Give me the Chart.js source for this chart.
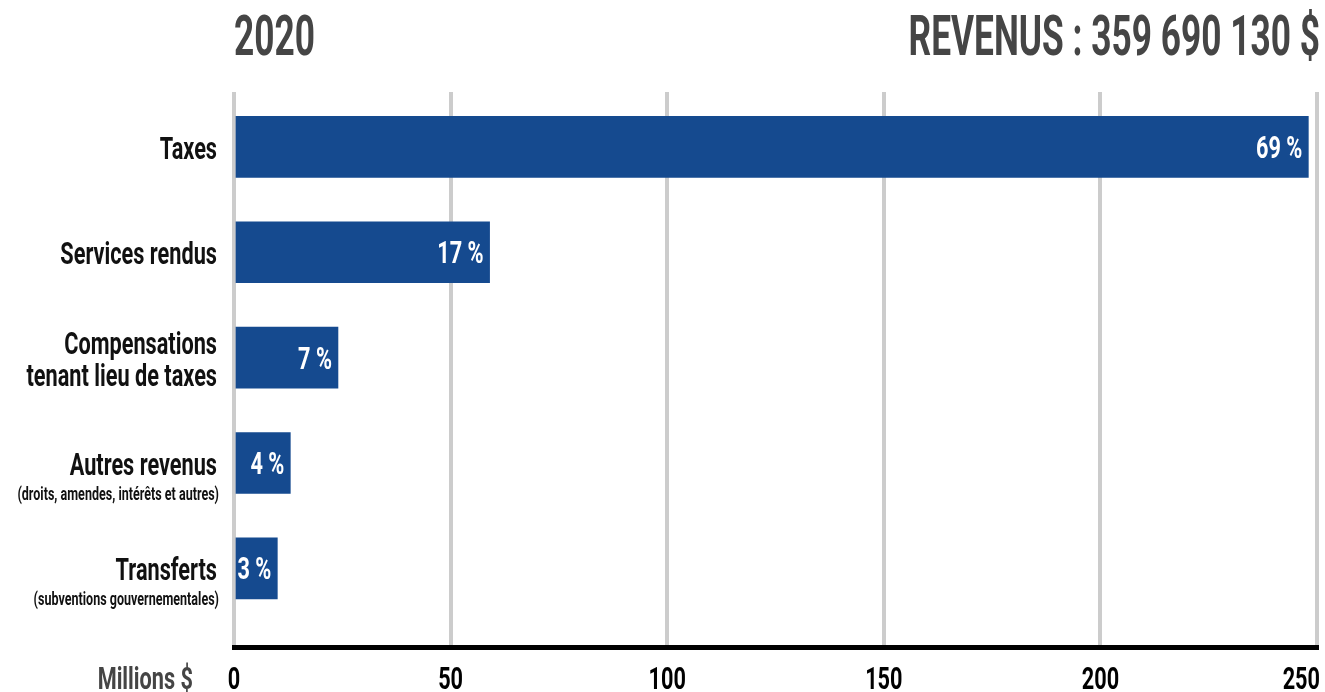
<!DOCTYPE html>
<html lang="fr">
<head>
    <meta charset="UTF-8">
    <title>Revenus 2020</title>
    <script src="https://cdn.jsdelivr.net/npm/chart.js"></script>
    <style>
        body { margin: 0; background: #fff; }
        #wrap { width: 1325px; height: 692px; }
    </style>
</head>
<body>
    <div id="wrap"><canvas id="revChart"></canvas></div>

    <script>
        // data (millions $)
        const categories = [['Taxes'], ['Services rendus'], ['Compensations', 'tenant lieu de taxes'], ['Autres revenus'], ['Transferts']];
        const subtitles = ['', '', '', '(droits, amendes, intérêts et autres)', '(subventions gouvernementales)'];
        const revenues = [248, 59, 24, 13, 10];
        const percentLabels = ['69 %', '17 %', '7 %', '4 %', '3 %'];
        const xTicks = [0, 50, 100, 150, 200, 250];
        const yearLabel = '2020';
        const totalLabel = 'REVENUS : 359 690 130 $';
        const axisTitle = 'Millions $';

        const barColor = '#154a8f';
        const greyText = '#454545';
        const FONT = 'Roboto, "DejaVu Sans", sans-serif';
        const SQUEEZE = 0.7; // condensed look

        function drawText(ctx, text, x, y, size, color, align, sx) {
            ctx.save();
            ctx.font = 'bold ' + size + 'px ' + FONT;
            ctx.fillStyle = color;
            ctx.textAlign = align;
            ctx.textBaseline = 'alphabetic';
            ctx.translate(x, y);
            ctx.scale(sx || SQUEEZE, 1);
            ctx.fillText(text, 0, 0);
            ctx.restore();
        }

        const textPlugin = {
            id: 'texts',
            afterDatasetsDraw(chart) {
                const ctx = chart.ctx;
                const xs = chart.scales.x;
                const ys = chart.scales.y;
                const area = chart.chartArea;

                // header
                drawText(ctx, yearLabel, area.left, 55, 56, greyText, 'left', 0.63);
                drawText(ctx, totalLabel, 1320, 55, 56, greyText, 'right', 0.63);

                // category labels
                categories.forEach((lines, i) => {
                    const cy = ys.getPixelForValue(i);
                    const labelX = area.left - 17;
                    if (lines.length === 2) {
                        drawText(ctx, lines[0], labelX, cy - 4, 31, '#111', 'right');
                        drawText(ctx, lines[1], labelX, cy + 28, 31, '#111', 'right');
                    } else {
                        drawText(ctx, lines[0], labelX, cy + 12, 31, '#111', 'right');
                    }
                    if (subtitles[i]) {
                        drawText(ctx, subtitles[i], labelX + 2, cy + 37, 19, '#111', 'right', 0.66);
                    }
                });

                // percentages inside bars
                const meta = chart.getDatasetMeta(0);
                meta.data.forEach((bar, i) => {
                    drawText(ctx, percentLabels[i], bar.x - 6, bar.y + 11, 31, '#fff', 'right');
                });

                // x tick labels
                xs.ticks.forEach((t, i) => {
                    const last = i === xs.ticks.length - 1;
                    const px = xs.getPixelForValue(t.value);
                    drawText(ctx, String(t.value), last ? px + 3 : px, 689, 31, '#000', last ? 'right' : 'center');
                });
                drawText(ctx, axisTitle, 193, 689, 31, greyText, 'right');
            }
        };

        new Chart(document.getElementById('revChart'), {
            type: 'bar',
            data: {
                datasets: [{
                    data: revenues.map((v, i) => ({ x: v, y: i })),
                    backgroundColor: barColor,
                    borderWidth: 0,
                    barThickness: 61
                }]
            },
            options: {
                indexAxis: 'y',
                responsive: true,
                maintainAspectRatio: false,
                animation: false,
                layout: { padding: { left: 234, right: 8, top: 92, bottom: 44.5 } },
                scales: {
                    x: {
                        type: 'linear',
                        min: 0,
                        max: 250,
                        afterBuildTicks(scale) {
                            scale.ticks = xTicks.map(v => ({ value: v }));
                        },
                        afterFit(scale) { scale.height = 0; },
                        ticks: { display: false },
                        grid: { color: '#cccccc', lineWidth: 4, drawTicks: false },
                        border: { display: true, color: '#000', width: 5 }
                    },
                    y: {
                        type: 'linear',
                        reverse: true,
                        offset: false,
                        min: -0.52,
                        max: 4.75,
                        display: false
                    }
                },
                plugins: {
                    legend: { display: false },
                    tooltip: { enabled: false }
                }
            },
            plugins: [textPlugin]
        });
    </script>
</body>
</html>
